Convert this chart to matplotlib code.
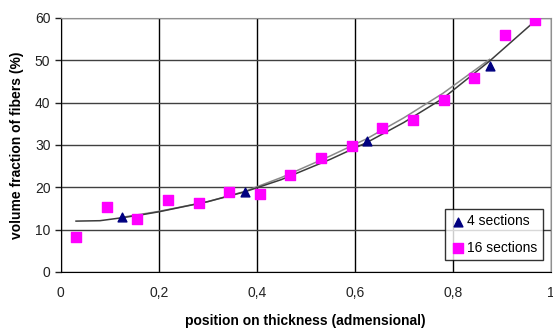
import matplotlib
matplotlib.use("Agg")
import matplotlib.pyplot as plt
from matplotlib.ticker import FuncFormatter

plt.rcParams["font.family"] = ["Liberation Sans", "DejaVu Sans"]

# 16 sections
x16 = [0.03125, 0.09375, 0.15625, 0.21875, 0.28125, 0.34375, 0.40625, 0.46875,
       0.53125, 0.59375, 0.65625, 0.71875, 0.78125, 0.84375, 0.90625, 0.96875]
y16 = [8.2, 15.3, 12.4, 16.9, 16.3, 18.9, 18.5, 22.8,
       26.9, 29.7, 33.9, 36.0, 40.7, 45.7, 55.9, 59.4]
# 4 sections
x4 = [0.125, 0.375, 0.625, 0.875]
y4 = [13.0, 18.9, 30.9, 48.7]

# trend curves
curve_a_x = [0.031, 0.08, 0.125, 0.16, 0.2, 0.3, 0.375, 0.45, 0.55, 0.625, 0.7, 0.78, 0.875, 0.969]
curve_a_y = [12.0, 12.1, 12.8, 13.4, 14.2, 16.6, 18.9, 21.8, 26.6, 30.6, 35.3, 41.0, 49.8, 59.4]
curve_b_x = [0.125, 0.2, 0.3, 0.375, 0.45, 0.55, 0.625, 0.7, 0.78, 0.875]
curve_b_y = [12.9, 14.3, 16.6, 19.0, 22.3, 27.4, 31.5, 36.4, 42.2, 50.2]

xticks = [0, 0.2, 0.4, 0.6, 0.8, 1]
yticks = [0, 10, 20, 30, 40, 50, 60]

fig = plt.figure(figsize=(5.53, 3.32), dpi=100)
ax = fig.add_axes([0.110, 0.181, 0.886, 0.765])

ax.plot(curve_b_x, curve_b_y, color="#8a8a8a", lw=1.1, zorder=3)
ax.plot(curve_a_x, curve_a_y, color="#3c3c3c", lw=1.1, zorder=3)

ax.scatter(x4, y4, marker="^", s=40, color="#000080", zorder=4, label="4 sections")
ax.scatter(x16, y16, marker="s", s=44, color="#ff00ff", zorder=4, label="16 sections")

ax.set_xlim(0, 1)
ax.set_ylim(0, 60)
ax.set_xticks(xticks)
ax.set_yticks(yticks)
ax.xaxis.set_major_formatter(FuncFormatter(lambda v, p: ("%g" % v).replace(".", ",")))
ax.tick_params(axis="both", labelsize=10, colors="#222222", length=4, width=1)
ax.tick_params(axis="x", length=0, pad=10)

ax.grid(axis="x", color="black", lw=1.0)
ax.grid(axis="y", color="#404040", lw=1.0)
ax.set_axisbelow(True)
for s in ["top", "right"]:
    ax.spines[s].set_color("#909090")
for s in ["left", "bottom"]:
    ax.spines[s].set_color("black")

ax.set_xlabel("position on thickness (admensional)", fontsize=10, fontweight="bold", labelpad=10)
ax.set_ylabel("volume fraction of fibers (%)", fontsize=10, fontweight="bold", labelpad=8)

leg = ax.legend(loc="lower right", bbox_to_anchor=(0.99, 0.035), fontsize=10,
                frameon=True, fancybox=False, handletextpad=0.2, handlelength=1.0,
                borderpad=0.4, labelspacing=0.9, borderaxespad=0.2)
leg.get_frame().set_edgecolor("black")
leg.get_frame().set_linewidth(1.0)

fig.savefig("out.png", dpi=100)
